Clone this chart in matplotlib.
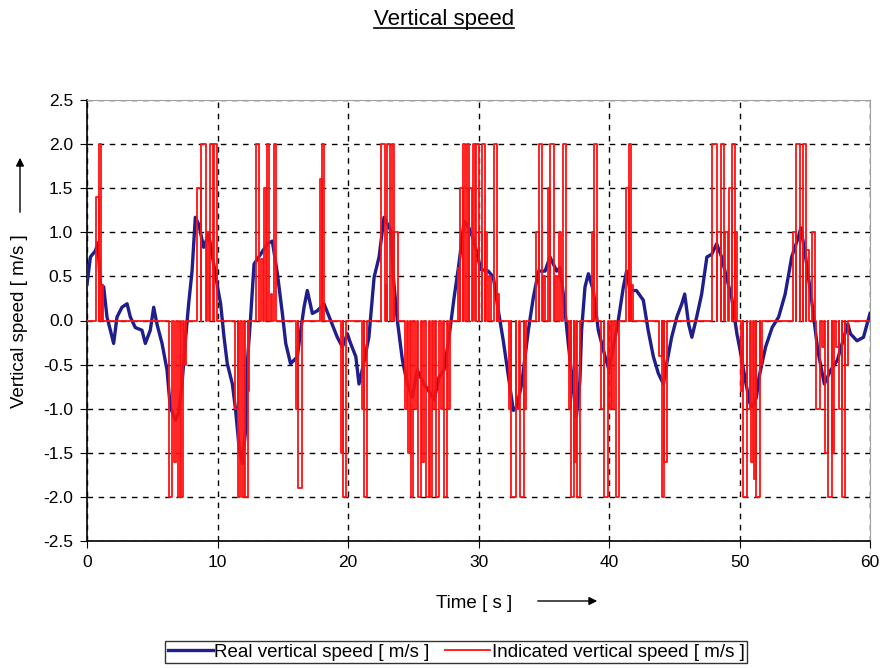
import numpy as np
import matplotlib
matplotlib.use("Agg")
import matplotlib.pyplot as plt

plt.rcParams['font.family'] = ['Liberation Sans', 'DejaVu Sans']

# real vertical speed [s], [m/s]
t_real = [0.0, 0.26, 0.64, 0.84, 1.02, 1.28, 1.53, 1.79, 2.04, 2.3, 2.68, 3.07, 3.32,
          3.7, 4.21, 4.47, 4.85, 5.11, 5.36, 5.75, 6.13, 6.38, 6.77, 7.02, 7.28, 7.54,
          7.79, 8.05, 8.3, 8.56, 8.94, 9.32, 9.71, 10.1, 10.24, 10.5, 10.75, 11.14,
          11.39, 11.65, 11.9, 12.16, 12.28, 12.54, 12.8, 13.3, 13.82, 14.2, 14.59,
          14.97, 15.23, 15.6, 16.12, 16.38, 16.63, 16.88, 17.27, 17.65, 18.16, 18.67,
          19.18, 19.57, 19.95, 20.2, 20.6, 20.84, 21.2, 21.6, 22.0, 22.38, 22.76,
          23.27, 23.5, 23.78, 24.17, 24.55, 24.93, 25.3, 25.82, 26.34, 26.6, 26.98,
          27.36, 27.74, 28.13, 28.5, 28.9, 29.27, 29.66, 30.17, 30.75, 31.14, 31.52,
          31.9, 32.3, 32.67, 32.93, 33.31, 33.82, 34.2, 34.6, 35.1, 35.48, 35.99,
          36.25, 36.5, 36.88, 37.27, 37.5, 37.77, 37.9, 38.16, 38.42, 38.8, 39.18,
          39.7, 40.0, 40.33, 40.71, 41.1, 41.35, 41.6, 42.1, 42.63, 43.0, 43.4, 43.78,
          44.17, 44.42, 44.8, 45.2, 45.58, 45.8, 46.1, 46.35, 46.72, 47.1, 47.5,
          47.87, 48.25, 48.63, 49.0, 49.4, 49.8, 50.0, 50.5, 50.8, 51.0, 51.3, 51.5,
          52.0, 52.5, 53.0, 53.5, 54.0, 54.5, 54.7, 55.0, 55.5, 56.0, 56.5, 57.0,
          57.5, 58.0, 58.3, 58.5, 59.0, 59.5, 60.0]
v_real = [0.41, 0.72, 0.79, 0.88, 0.41, 0.38, 0.04, -0.11, -0.26, 0.04, 0.15, 0.19, 0.04,
          -0.08, -0.11, -0.26, -0.11, 0.15, -0.04, -0.26, -0.56, -0.98, -1.13, -1.05,
          -0.72, -0.23, 0.19, 0.56, 1.17, 1.09, 0.83, 0.98, 0.64, 0.3, 0.19, -0.19,
          -0.49, -0.72, -1.02, -1.43, -1.62, -1.24, -0.49, 0.04, 0.64, 0.75, 0.87, 0.9,
          0.53, 0.08, -0.26, -0.49, -0.41, -0.11, 0.15, 0.34, 0.08, 0.11, 0.19, 0.0,
          -0.19, -0.3, -0.15, -0.26, -0.41, -0.72, -0.49, -0.19, 0.49, 0.72, 1.17,
          1.02, 0.45, 0.0, -0.45, -0.72, -0.87, -0.56, -0.72, -0.83, -0.9, -0.64,
          -0.56, -0.19, 0.26, 0.64, 1.13, 1.05, 0.9, 0.58, 0.56, 0.49, 0.11, -0.23,
          -0.64, -1.02, -0.98, -0.72, -0.11, 0.26, 0.56, 0.56, 0.72, 0.56, 0.6, 0.3,
          -0.26, -0.79, -1.09, -0.68, -0.11, 0.38, 0.53, 0.34, -0.11, -0.41, -0.56,
          -0.3, 0.0, 0.38, 0.56, 0.34, 0.34, 0.23, -0.11, -0.41, -0.6, -0.72, -0.49,
          -0.19, 0.04, 0.19, 0.3, -0.04, -0.19, 0.04, 0.3, 0.72, 0.75, 0.87, 0.72,
          0.49, 0.26, -0.15, -0.3, -0.72, -0.94, -0.98, -0.87, -0.64, -0.3, -0.08,
          0.04, 0.3, 0.72, 0.94, 1.05, 0.79, 0.26, -0.34, -0.72, -0.56, -0.45, -0.19,
          -0.04, -0.15, -0.23, -0.19, 0.08]

# indicated vertical speed: pulses (start [s], end [s], level [m/s])
pulse_start = [0.69, 0.89, 1.15,
               6.25, 6.7, 6.95, 7.2, 7.45,
               8.45, 8.75, 9.2, 9.45, 9.75,
               11.35, 11.55, 11.85, 12.1, 12.3,
               12.95, 13.3, 13.6, 13.8, 14.1, 14.3,
               16.05, 16.2, 17.85, 18.0, 19.5, 19.65,
               21.1, 21.25,
               22.55, 22.9, 23.0, 23.35, 23.55,
               24.35, 24.6, 24.8, 25.1, 25.35, 25.7, 25.95, 26.3, 26.55, 26.75, 27.1,
               27.35, 27.65,
               28.4, 28.6, 28.85, 29.1, 29.3, 29.55, 29.8, 30.05, 30.3, 30.5, 30.8,
               31.2, 31.45,
               32.35, 32.5, 32.9, 33.15, 33.45,
               34.4, 34.6, 34.95, 35.3, 35.5, 35.85, 36.2, 36.45,
               36.95, 37.05, 37.3, 37.55,
               38.7, 38.85,
               39.4, 39.65, 40.0, 40.2, 40.5,
               41.3, 41.5, 41.7,
               43.85, 44.05, 44.25,
               47.9, 48.25, 48.6, 48.9, 49.2, 49.4, 49.65,
               50.1, 50.25, 50.6, 50.85, 51.1, 51.3, 51.55,
               54.1, 54.35, 54.65, 54.85, 55.1, 55.55,
               55.85, 56.3, 56.55, 56.8, 57.05, 57.4, 57.65, 57.85, 58.1]
pulse_end = [0.89, 1.07, 1.2,
             6.55, 6.85, 7.1, 7.35, 7.55,
             8.7, 9.15, 9.35, 9.62, 9.95,
             11.55, 11.75, 12.05, 12.3, 12.45,
             13.15, 13.45, 13.75, 13.95, 14.2, 14.5,
             16.2, 16.45, 18.0, 18.15, 19.65, 19.85,
             21.25, 21.45,
             22.8, 23.0, 23.25, 23.55, 23.8,
             24.5, 24.75, 25.0, 25.25, 25.6, 25.85, 26.2, 26.45, 26.7, 27.0, 27.25,
             27.6, 27.85,
             28.6, 28.85, 29.0, 29.25, 29.5, 29.75, 30.0, 30.25, 30.5, 30.65, 30.95,
             31.45, 31.6,
             32.5, 32.85, 33.1, 33.45, 33.65,
             34.6, 34.85, 35.1, 35.45, 35.75, 36.0, 36.35, 36.7,
             37.05, 37.3, 37.5, 37.8,
             38.85, 39.05,
             39.6, 39.9, 40.15, 40.4, 40.75,
             41.5, 41.7, 41.85,
             44.05, 44.25, 44.45,
             48.25, 48.55, 48.85, 49.1, 49.4, 49.65, 49.8,
             50.25, 50.6, 50.8, 51.05, 51.3, 51.55, 51.75,
             54.35, 54.65, 54.85, 55.1, 55.3, 55.75,
             56.2, 56.5, 56.75, 57.05, 57.25, 57.6, 57.85, 58.1, 58.3]
pulse_level = [1.4, 2.0, 0.4,
               -2.0, -1.6, -2.0, -2.0, -0.5,
               1.5, 2.0, 1.0, 2.0, 2.0,
               -1.0, -2.0, -2.0, -2.0, -0.8,
               2.0, 0.7, 1.5, 2.0, 0.3, 2.0,
               -1.0, -1.9, 1.6, 2.0, -1.5, -2.0,
               -1.0, -2.0,
               2.0, 0.4, 2.0, 2.0, 1.0,
               -1.0, -1.5, -2.0, -1.0, -2.0, -1.6, -2.0, -2.0, -1.0, -2.0, -1.0,
               -2.0, -1.0,
               0.6, 1.5, 2.0, 2.0, 1.5, 2.0, 2.0, 1.0, 2.0, 1.0, 0.5,
               2.0, 0.3,
               -1.0, -2.0, -1.0, -2.0, -1.0,
               1.0, 2.0, 0.5, 1.5, 2.0, 0.5, 1.0, 2.0,
               -1.0, -2.0, -1.6, -2.0,
               1.0, 2.0,
               -1.0, -2.0, -1.0, -1.0, -2.0,
               1.5, 2.0, 0.4,
               -0.4, -2.0, -1.6,
               2.0, 1.0, 2.0, 1.0, 1.5, 2.0, 1.0,
               -0.8, -2.0, -1.0, -1.6, -1.8, -2.0, -0.5,
               1.0, 2.0, 1.0, 2.0, 0.8, 1.0,
               -1.0, -0.3, -1.5, -2.0, -1.5, -0.3, -1.0, -2.0, -0.5]

# build the step trace of the indicator
t_ind = [0.0]
v_ind = [0.0]
for a, b, lvl in zip(pulse_start, pulse_end, pulse_level):
    t_ind += [a, a, b, b]
    v_ind += [0.0, lvl, lvl, 0.0]
t_ind.append(60.0)
v_ind.append(0.0)

fig = plt.figure(figsize=(8.8, 6.68), dpi=100)
ax = fig.add_axes([87 / 880, 1 - 541 / 668, (870 - 87) / 880, (541 - 100) / 668])

ax.plot(t_real, v_real, color='#1e1e8c', lw=2.4, label='Real vertical speed [ m/s ]', zorder=3)
ax.plot(t_ind, v_ind, color='#ff1010', lw=1.3, label='Indicated vertical speed [ m/s ]', zorder=4)

ax.set_xlim(0, 60)
ax.set_ylim(-2.5, 2.5)
ax.set_xticks(np.arange(0, 61, 10))
ax.set_yticks(np.arange(-2.5, 2.51, 0.5))
ax.set_yticklabels(['%.1f' % v for v in np.arange(-2.5, 2.51, 0.5)])
ax.tick_params(labelsize=12.5, direction='out', length=5, color='black', pad=5)
ax.grid(True, color='black', linestyle=(0, (4, 4)), linewidth=1.0, zorder=1)
ax.set_axisbelow(True)

for side in ['top', 'right']:
    ax.spines[side].set_color('#a0a0a0')
for side in ['left', 'bottom']:
    ax.spines[side].set_color('black')
    ax.spines[side].set_linewidth(1.2)

# title with underline
title = fig.text(444 / 880, 1 - 19 / 668, 'Vertical speed', ha='center', va='center', fontsize=16)
fig.canvas.draw()
bb = title.get_window_extent().transformed(fig.transFigure.inverted())
fig.add_artist(plt.Line2D([bb.x0, bb.x1], [bb.y0 + 0.002, bb.y0 + 0.002], color='black',
                          lw=1.2, transform=fig.transFigure))

# axis labels with arrows
fig.text(20 / 880, 1 - 321 / 668, 'Vertical speed [ m/s ]', rotation=90, ha='center',
         va='center', fontsize=13.5)
ax.annotate('', xy=(20 / 880, 1 - 155 / 668), xytext=(20 / 880, 1 - 215 / 668),
            xycoords='figure fraction',
            arrowprops=dict(arrowstyle='-|>', color='black', lw=1.0, mutation_scale=12))
fig.text(474 / 880, 1 - 603 / 668, 'Time [ s ]', ha='center', va='center', fontsize=13.5)
ax.annotate('', xy=(600 / 880, 1 - 601 / 668), xytext=(535 / 880, 1 - 601 / 668),
            xycoords='figure fraction',
            arrowprops=dict(arrowstyle='-|>', color='black', lw=1.0, mutation_scale=12))

leg = fig.legend(loc='center', bbox_to_anchor=(456 / 880, 1 - 652 / 668), ncol=2,
                 fontsize=13.5, frameon=True, fancybox=False, edgecolor='black',
                 handlelength=2.4, handletextpad=0.1, columnspacing=0.8,
                 borderpad=0.12, borderaxespad=0)
leg.get_frame().set_linewidth(1.0)

fig.savefig('out.png', dpi=100)
